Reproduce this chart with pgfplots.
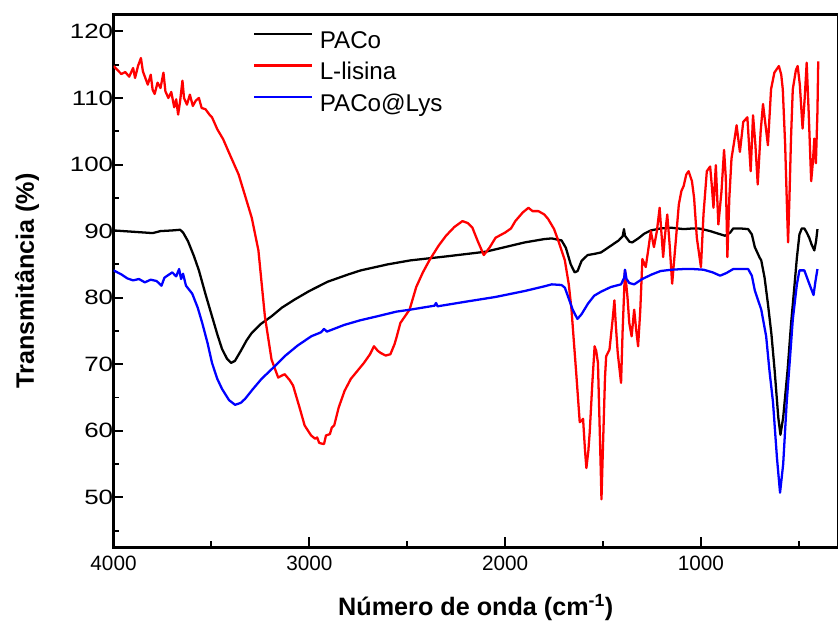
\documentclass[border=0pt]{standalone}
\usepackage{fontspec}
\setmainfont{Liberation Sans}
\usepackage{pgfplots}
\pgfplotsset{compat=1.18}
\usepackage{pgfplotstable}

% PACo
\pgfplotstableread{
x y
4000 90.1
3950 90.0
3900 89.9
3850 89.8
3800 89.7
3760 90.0
3700 90.1
3660 90.2
3645 89.8
3620 88.5
3590 86.3
3564 84.1
3530 80.5
3497 77.2
3470 74.5
3446 72.3
3420 70.8
3400 70.2
3380 70.5
3350 72.0
3320 73.6
3294 74.7
3250 76.0
3193 77.2
3140 78.5
3076 79.7
3000 81.0
2906 82.4
2800 83.5
2737 84.1
2600 85.0
2484 85.6
2300 86.2
2100 86.9
2000 87.6
1900 88.3
1800 88.8
1762 88.9
1712 88.6
1690 87.5
1665 85.0
1645 83.8
1630 84.0
1610 85.5
1579 86.4
1540 86.6
1510 86.8
1460 87.8
1420 88.6
1400 89.2
1393 90.3
1388 89.3
1365 88.4
1351 88.3
1320 88.9
1290 89.6
1256 90.1
1206 90.4
1150 90.5
1088 90.3
1040 90.4
1012 90.4
980 90.2
953 90.0
910 89.6
877 89.3
850 89.8
835 90.4
800 90.4
759 90.3
740 89.5
725 87.6
700 86.0
692 85.6
675 83.0
658 79.1
640 74.5
624 69.2
605 62.0
594 59.4
580 62.0
557 69.3
540 76.0
523 81.6
510 86.0
497 89.5
485 90.4
472 90.4
460 89.8
447 89.0
435 88.0
421 87.1
412 88.5
405 90.3
}\paco

% L-lisina
\pgfplotstableread{
x y
4000 114.8
3980 114.2
3960 113.6
3940 113.9
3920 113.2
3900 114.5
3890 113.0
3875 114.8
3860 116.0
3850 114.0
3840 113.2
3825 112.0
3810 113.5
3800 111.2
3790 110.6
3775 112.3
3760 111.5
3745 113.8
3735 111.0
3720 110.0
3705 110.9
3690 108.6
3680 109.8
3670 107.5
3660 109.5
3648 112.6
3640 110.0
3625 109.0
3610 110.5
3595 108.8
3580 109.6
3564 110.0
3550 108.5
3530 108.3
3510 107.5
3497 107.1
3470 105.3
3440 103.8
3412 101.9
3361 98.5
3330 95.5
3294 92.0
3260 87.1
3227 77.2
3193 70.7
3159 68.0
3140 68.3
3126 68.5
3100 67.6
3083 66.8
3050 63.5
3024 60.8
2991 59.3
2970 58.8
2960 59.0
2950 58.2
2940 58.1
2925 58.0
2915 59.3
2895 59.5
2885 60.5
2873 60.8
2850 63.5
2820 66.0
2788 67.8
2760 68.8
2721 70.2
2690 71.5
2670 72.7
2650 72.0
2636 71.7
2610 71.3
2586 71.5
2565 73.0
2555 74.0
2535 76.2
2488 78.2
2454 81.6
2420 83.8
2387 85.6
2340 87.8
2302 89.3
2260 90.6
2218 91.5
2190 91.2
2167 90.5
2140 88.5
2109 86.4
2080 87.5
2049 89.0
1999 89.8
1970 90.4
1948 91.5
1910 92.8
1881 93.5
1860 93.0
1830 93.0
1800 92.5
1780 91.8
1750 90.3
1729 88.6
1695 85.6
1675 82.0
1661 78.2
1648 73.0
1636 68.3
1619 61.3
1610 61.5
1602 61.8
1592 57.0
1585 54.4
1575 57.0
1568 59.8
1555 67.0
1543 72.7
1535 72.0
1526 70.2
1515 58.0
1508 49.7
1500 58.0
1490 68.0
1484 71.2
1467 72.2
1450 77.0
1442 79.6
1435 76.0
1425 71.7
1408 67.2
1400 75.0
1388 84.1
1375 80.0
1366 76.2
1354 74.2
1341 78.2
1330 75.0
1321 72.7
1310 78.0
1299 85.8
1282 84.6
1270 87.0
1256 90.0
1240 87.6
1225 90.0
1211 93.5
1193 86.1
1185 89.0
1172 92.5
1160 88.0
1147 82.1
1130 88.0
1113 94.0
1100 96.0
1088 96.8
1075 98.5
1063 99.0
1046 97.5
1035 95.0
1021 89.0
1000 84.6
987 92.5
970 99.0
953 99.7
945 97.0
936 93.5
924 99.9
911 91.0
895 96.0
882 102.2
873 98.0
865 86.1
855 95.0
844 100.9
830 103.5
818 105.9
801 101.9
784 106.4
763 107.1
746 99.0
734 107.4
722 103.0
710 97.0
695 105.0
683 109.1
658 102.9
642 111.3
625 113.8
602 114.8
590 113.5
582 111.3
570 103.0
560 93.0
555 88.3
548 95.0
540 104.0
531 111.3
515 114.2
506 114.8
495 112.0
481 105.4
470 110.0
460 115.3
450 108.0
437 97.5
428 100.5
421 103.9
413 100.2
405 108.0
401 115.5
}\lisina

% PACo@Lys
\pgfplotstableread{
x y
4000 84.1
3960 83.5
3930 82.9
3900 82.6
3870 82.8
3840 82.3
3810 82.7
3780 82.5
3755 81.8
3740 83.0
3720 83.4
3700 83.8
3680 83.2
3665 84.3
3655 82.8
3645 83.6
3630 81.8
3598 80.6
3570 78.5
3547 76.2
3520 73.2
3497 70.2
3470 67.8
3446 66.3
3410 64.6
3379 63.9
3350 64.2
3328 64.8
3290 66.2
3244 67.8
3180 69.6
3126 71.2
3060 72.8
2990 74.2
2940 74.8
2925 75.3
2910 74.9
2822 75.9
2740 76.6
2653 77.2
2555 77.9
2484 78.2
2360 78.8
2353 79.2
2345 78.7
2200 79.4
2050 80.1
1900 81.0
1800 81.7
1762 82.0
1712 81.9
1695 81.5
1678 80.1
1655 78.2
1631 76.8
1610 77.5
1577 79.1
1545 80.3
1510 80.9
1460 81.6
1408 82.0
1392 83.0
1388 84.2
1380 82.8
1366 82.2
1341 82.0
1300 82.8
1250 83.5
1206 84.0
1150 84.2
1088 84.3
1040 84.3
987 84.2
940 83.8
902 83.3
870 83.7
835 84.3
759 84.3
740 83.3
725 81.1
692 78.2
667 74.2
650 69.0
632 64.3
612 56.0
596 50.7
580 55.0
562 64.3
545 71.0
531 76.7
510 82.0
497 84.1
472 84.1
447 82.1
425 80.4
415 82.5
405 84.3
}\pacolys

\begin{document}
\begin{tikzpicture}
\path (-114.5bp,-81bp) rectangle (723.5bp,552bp);
\begin{axis}[
  overlay,
  at={(0,0)}, anchor=south west,
  scale only axis,
  width=730.75bp, height=537.1bp,
  x dir=reverse,
  xmin=300, xmax=4000,
  ymin=42.5, ymax=122.5,
  xtick={1000,2000,3000,4000},
  minor xtick={500,1500,2500,3500},
  ytick={50,60,...,120},
  minor ytick={45,55,...,115},
  xtick pos=bottom, ytick pos=left,
  tick align=inside,
  major tick length=10bp, minor tick length=6bp,
  every tick/.style={black, line width=2bp},
  axis line style={black, line width=2.7bp},
  /pgf/number format/assume math mode=true,
  /pgf/number format/set thousands separator={},
  tick label style={font=\fontsize{21}{25}\selectfont},
  xticklabel style={yshift=-5bp},
  yticklabel style={xshift=4bp, xscale=1.25},
  xlabel={Número de onda (cm\textsuperscript{-1})},
  ylabel={Transmitância (\%)},
  every axis x label/.style={at={(axis description cs:0.5,0)}, anchor=base,
    yshift=-69bp, font=\fontsize{25.5}{30}\selectfont\bfseries},
  every axis y label/.style={at={(axis description cs:-0.110,0.5)}, anchor=base,
    rotate=90, font=\fontsize{25.5}{30}\selectfont\bfseries},
  legend cell align=left,
  legend style={
    at={(axis description cs:0.1923,0.9695)}, anchor=north west,
    draw=none, fill=none, inner sep=0pt,
    font=\fontsize{24.5}{28}\selectfont,
    column sep=7bp, row sep=10bp,
    nodes={inner sep=0pt, text height=17bp, text depth=5bp},
  },
  legend image code/.code={\draw[#1] (0bp,8.5bp) -- (58bp,8.5bp);},
  every axis plot/.append style={line width=2.3bp, line join=round},
]
\addplot[black] table[x=x, y=y] {\paco};
\addlegendentry{PACo}
\addplot[red] table[x=x, y=y] {\lisina};
\addlegendentry{L-lisina}
\addplot[blue] table[x=x, y=y] {\pacolys};
\addlegendentry{PACo@Lys}
\end{axis}
\end{tikzpicture}
\end{document}
